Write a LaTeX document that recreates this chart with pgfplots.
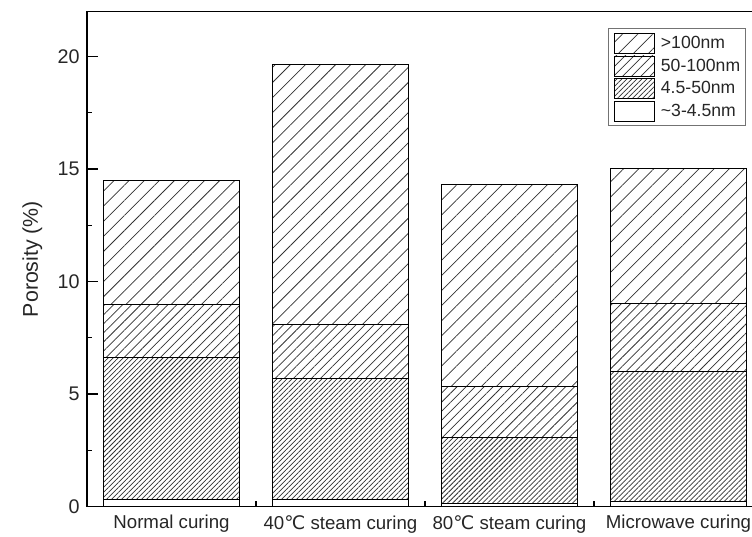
\documentclass[border=0pt]{standalone}
\usepackage{pgfplots}
\usepackage{pgfplotstable}
\pgfplotsset{compat=1.18}
\usetikzlibrary{patterns.meta}
\usepackage{fontspec}
\setmainfont{Liberation Sans}
\newfontfamily\dejavu{DejaVu Sans}

\pgfplotstableread{
x s1 s2 s3 s4
0 0.32 6.31 2.33 5.55
1 0.29 5.38 2.44 11.54
2 0.12 2.96 2.26 8.95
3 0.24 5.78 3.01 6.00
}\datatable

\pgfplotsset{
  mylegend/.style={legend image code/.code={\draw[##1, draw=black, line width=0.6pt] (0pt,-7.5pt) rectangle (30pt,7.5pt);}},
}

\begin{document}
\begin{tikzpicture}
\useasboundingbox (0,0) rectangle (564pt,402pt);
\begin{axis}[
  at={(65.25pt,22.125pt)}, anchor=south west,
  scale only axis, width=507pt, height=371.25pt,
  xmin=-0.5, xmax=3.5, ymin=0, ymax=22,
  ybar stacked, bar width=0.8,
  axis line style={line width=0.9pt, black},
  xtick={0,1,2,3},
  xticklabels={Normal curing, 40{\dejavu ℃} steam curing, 80{\dejavu ℃} steam curing, Microwave curing},
  major x tick style={draw=none},
  minor xtick={0.5,1.5,2.5},
  ytick={0,5,10,15,20},
  minor ytick={2.5,7.5,12.5,17.5},
  tick align=inside,
  xtick pos=left, ytick pos=left,
  major tick length=8pt, minor tick length=4pt,
  every tick/.style={black, line width=0.9pt},
  tick label style={font=\fontsize{14}{16}\selectfont, text=black!85},
  yticklabel style={font=\fontsize{14.8}{16}\selectfont, xshift=-2pt},
  /pgf/number format/assume math mode=true,
  xticklabel style={yshift=-3pt},
  ylabel={Porosity (\%)},
  every axis y label/.style={at={(axis description cs:-0.081,0.5)}, rotate=90, anchor=center,
    font=\fontsize{16}{18}\selectfont, text=black!85},
  reverse legend,
  legend style={at={(1,1)}, anchor=north east, xshift=-12.75pt, yshift=-12.6pt,
    draw=black!55, line width=0.7pt, font=\fontsize{13.2}{14}\selectfont, text=black!85,
    row sep=1.5pt, inner xsep=4pt, inner ysep=3pt,
    nodes={inner sep=0pt, anchor=west},
    /tikz/every odd column/.append style={column sep=4.5pt}},
]
\addplot[draw=black, line width=0.75pt, fill=white, mylegend] table[x=x, y=s1] {\datatable};
\addplot[draw=black, line width=0.75pt, fill=white, mylegend,
  pattern={Lines[angle=45, distance=2.65pt, line width=0.55pt]}, pattern color=black!80] table[x=x, y=s2] {\datatable};
\addplot[draw=black, line width=0.75pt, fill=white, mylegend,
  pattern={Lines[angle=45, distance=4.8pt, line width=0.55pt]}, pattern color=black!80] table[x=x, y=s3] {\datatable};
\addplot[draw=black, line width=0.75pt, fill=white, mylegend,
  pattern={Lines[angle=45, distance=8pt, line width=0.55pt]}, pattern color=black!80] table[x=x, y=s4] {\datatable};
\legend{\textasciitilde 3-4.5nm, 4.5-50nm, 50-100nm, >100nm}
\end{axis}
\end{tikzpicture}
\end{document}
